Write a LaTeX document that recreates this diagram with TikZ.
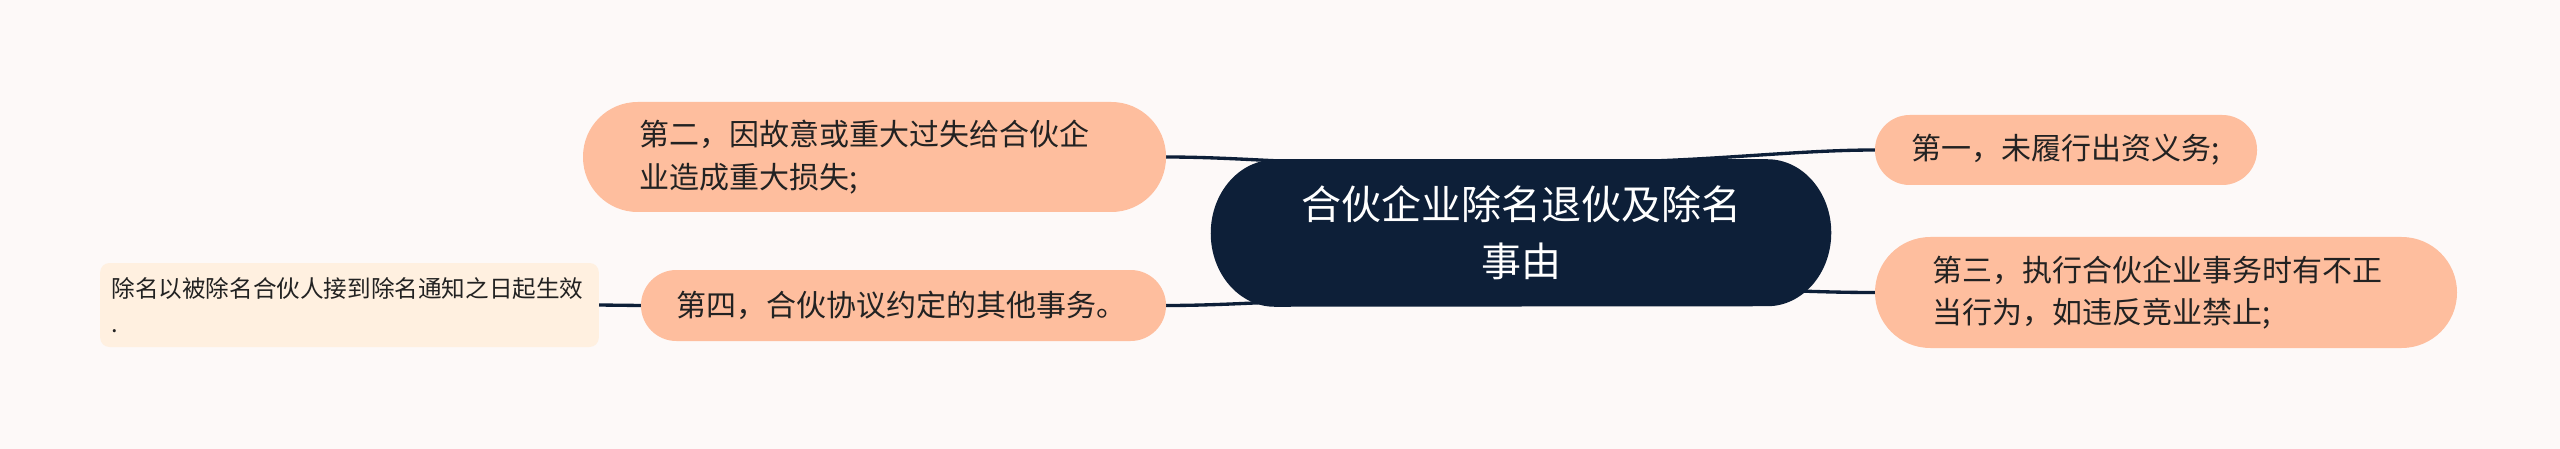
\documentclass[tikz,border=0pt]{standalone}
\usepackage{fontspec}
\setmainfont{Noto Sans CJK SC}
\definecolor{canvasbg}{HTML}{FDF9F8}
\definecolor{peach}{HTML}{FEBE9E}
\definecolor{navy}{HTML}{0D1F38}
\definecolor{cream}{HTML}{FFF0E0}
\definecolor{ink}{HTML}{222222}
\pgfdeclarelayer{canvas}
\pgfdeclarelayer{edges}
\pgfdeclarelayer{rootfill}
\pgfsetlayers{canvas,edges,rootfill,main}
\tikzset{
  leaf/.style={fill=peach, text=ink, inner ysep=0pt, align=left,
    font=\fontsize{22.5pt}{32pt}\selectfont},
  rootbox/.style={text=white, inner sep=0pt, align=center,
    minimum width=465pt, minimum height=110.25pt,
    font=\fontsize{30pt}{42.75pt}\selectfont},
  notebox/.style={fill=cream, text=ink, inner ysep=0pt, align=left,
    rounded corners=7pt, font=\fontsize{17.7pt}{26pt}\selectfont},
  link/.style={draw=navy, line width=2.5pt, line cap=round}
}
\begin{document}
\begin{tikzpicture}[x=0.75pt,y=-0.75pt]
\begin{pgfonlayer}{canvas}
\fill[canvasbg] (0,0) rectangle (2560,449);
\end{pgfonlayer}
\useasboundingbox (0,0) rectangle (2560,449);

\node[rootbox] (root) at (1521,233) {合伙企业除名退伙及除名\\事由};
\begin{pgfonlayer}{rootfill}
\fill[navy] ([xshift=48pt]root.north west) -- ([xshift=-48pt]root.north east)
  arc[start angle=90, end angle=-90, x radius=48pt, y radius=55.125pt]
  -- ([xshift=48pt]root.south west)
  arc[start angle=270, end angle=90, x radius=48pt, y radius=55.125pt] -- cycle;
\end{pgfonlayer}

\node[leaf, minimum height=82.5pt, rounded corners=41pt, text width=353.25pt, inner xsep=42pt]
  (n2) at (874.5,157) {第二，因故意或重大过失给合伙企\\业造成重大损失;};
\node[leaf, minimum height=53.25pt, rounded corners=26.5pt, text width=341.25pt, inner xsep=26.25pt]
  (n4) at (903.5,305.5) {第四，合伙协议约定的其他事务。};
\node[leaf, minimum height=52.5pt, rounded corners=26pt, text width=232.5pt, inner xsep=27pt]
  (n1) at (2066,150) {第一，未履行出资义务;};
\node[leaf, minimum height=83.25pt, rounded corners=41.5pt, text width=351pt, inner xsep=42.75pt]
  (n3) at (2166,292.5) {第三，执行合伙企业事务时有不正\\当行为，如违反竞业禁止;};
\node[notebox, minimum height=63pt, text width=357pt, inner xsep=8.5pt]
  (note) at (349.5,305) {除名以被除名合伙人接到除名通知之日起生效\\.};

\coordinate (c2) at (1350,163);
\coordinate (c4) at (1350,300);
\coordinate (c1) at (1600,162);
\coordinate (c3) at (1750,290);

\begin{pgfonlayer}{edges}
\draw[link] (n2.east) .. controls +(64,0) and +(-60,0) .. (c2);
\draw[link] (n4.east) .. controls +(64,0) and +(-60,0) .. (c4);
\draw[link] (n1.west) .. controls +(-80,0) and +(100,0) .. (c1);
\draw[link] (n3.west) .. controls +(-55,0) and +(40,0) .. (c3);
\draw[link] (note.east) -- (n4.west);
\end{pgfonlayer}
\end{tikzpicture}
\end{document}
